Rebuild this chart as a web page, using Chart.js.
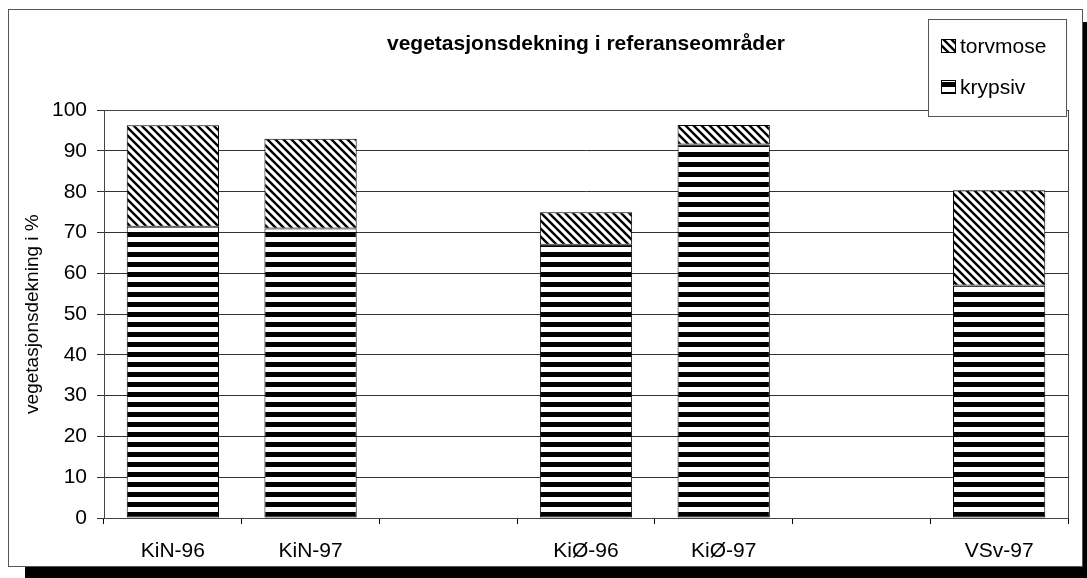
<!DOCTYPE html>
<html>
<head>
<meta charset="utf-8">
<script src="https://cdn.jsdelivr.net/npm/chart.js@4.4.0/dist/chart.umd.min.js"></script>
<style>
  html, body { margin: 0; padding: 0; background: #fff; overflow: hidden; }
  #wrap { position: relative; width: 1087px; height: 578px; overflow: hidden; }
  #frame {
    position: absolute; left: 8px; top: 9px; width: 1073px; height: 556px;
    border: 1px solid #555; background: #fff;
    box-shadow: 17px 13px 0 #000;
  }
  #myChart { position: absolute; left: 0; top: 0; }
</style>
</head>
<body>
<div id="wrap">
  <div id="frame"></div>
  <canvas id="myChart" width="1087" height="578"></canvas>
</div>
<script>
var categories = ['KiN-96', 'KiN-97', '', 'KiØ-96', 'KiØ-97', '', 'VSv-97'];
var krypsiv = [71.4, 71, null, 67, 91.6, null, 57];
var torvmose = [24.9, 22, null, 8, 4.8, null, 23.4];
var yTicks = [0, 10, 20, 30, 40, 50, 60, 70, 80, 90, 100];

var fontFam = '"Liberation Sans", Arial, Helvetica, sans-serif';

// black/white stripes, 5px black every 10px
function stripePattern(ctx){
  var c = document.createElement('canvas');
  c.width = 4; c.height = 10;
  var g = c.getContext('2d');
  g.fillStyle = '#fff'; g.fillRect(0, 0, 4, 10);
  g.fillStyle = '#000'; g.fillRect(0, 0, 4, 5);
  var p = ctx.createPattern(c, 'repeat');
  p.setTransform(new DOMMatrix().translate(0, 2));
  return p;
}

// "\" hatch
function hatchPattern(ctx){
  var s = 8;
  var c = document.createElement('canvas');
  c.width = s; c.height = s;
  var g = c.getContext('2d');
  g.fillStyle = '#fff'; g.fillRect(0, 0, s, s);
  g.strokeStyle = '#000'; g.lineWidth = 2.4;
  g.beginPath();
  g.moveTo(-1, -1); g.lineTo(s + 1, s + 1);
  g.moveTo(-1, s - 1); g.lineTo(1, s + 1);
  g.moveTo(s - 1, -1); g.lineTo(s + 1, 1);
  g.stroke();
  return ctx.createPattern(c, 'repeat');
}

var areaBorder = {
  id: 'areaBorder',
  beforeDatasetsDraw: function(chart){
    var a = chart.chartArea, c = chart.ctx;
    c.save();
    c.strokeStyle = '#444'; c.lineWidth = 1;
    c.strokeRect(Math.round(a.left) + 0.5, Math.round(a.top) + 0.5,
                 Math.round(a.right - a.left), Math.round(a.bottom - a.top));
    c.restore();
  }
};

var boxLegend = {
  id: 'boxLegend',
  afterDraw: function(chart){
    var c = chart.ctx;
    c.save();
    c.fillStyle = '#fff';
    c.fillRect(928, 19, 138, 97);
    c.strokeStyle = '#555'; c.lineWidth = 1;
    c.strokeRect(928.5, 19.5, 138, 97);
    var ds = chart.data.datasets;
    var rows = [ds[1], ds[0]];
    var ys = [46, 87];
    c.font = '21px ' + fontFam;
    c.textBaseline = 'middle';
    for (var i = 0; i < rows.length; i++){
      c.fillStyle = rows[i].backgroundColor;
      c.fillRect(941, ys[i] - 7, 15, 14);
      c.strokeStyle = '#000';
      c.strokeRect(941.5, ys[i] - 6.5, 14, 13);
      c.fillStyle = '#000';
      c.fillText(rows[i].label, 960, ys[i] + 1);
    }
    c.restore();
  }
};

window.onload = function(){
  var ctx = document.getElementById('myChart').getContext('2d');
  var stripes = stripePattern(ctx);
  var hatch = hatchPattern(ctx);

  new Chart(ctx, {
    type: 'bar',
    data: {
      labels: categories,
      datasets: [
        { label: 'krypsiv', data: krypsiv, backgroundColor: stripes,
          borderColor: '#000', borderWidth: 1, borderSkipped: false },
        { label: 'torvmose', data: torvmose, backgroundColor: hatch,
          borderColor: '#000', borderWidth: 1, borderSkipped: false }
      ]
    },
    options: {
      responsive: false,
      devicePixelRatio: 1,
      animation: false,
      layout: { padding: { left: 8, right: 19, top: 0, bottom: 10 } },
      datasets: { bar: { categoryPercentage: 1, barPercentage: 0.67 } },
      plugins: {
        legend: { display: false },
        tooltip: { enabled: false },
        title: {
          display: true,
          fullSize: false,
          text: 'vegetasjonsdekning i referanseområder',
          color: '#000',
          font: { family: fontFam, size: 21, weight: 'bold' },
          padding: { top: 32, bottom: 53 }
        }
      },
      scales: {
        x: {
          stacked: true,
          afterFit: function(s){ s.height = 50; },
          grid: { display: true, offset: true, drawOnChartArea: false, color: '#000', tickLength: 6 },
          border: { color: '#000' },
          ticks: { color: '#000', padding: 15, maxRotation: 0, autoSkip: false,
                   font: { family: fontFam, size: 21 } }
        },
        y: {
          stacked: true,
          min: 0, max: 100,
          afterFit: function(s){ s.width = 96; },
          afterBuildTicks: function(s){ s.ticks = yTicks.map(function(v){ return { value: v }; }); },
          grid: { color: '#333', tickLength: 7 },
          border: { color: '#000' },
          ticks: { color: '#000', padding: 10, font: { family: fontFam, size: 21 } },
          title: {
            display: true,
            text: 'vegetasjonsdekning i %',
            color: '#000',
            font: { family: fontFam, size: 19 },
            padding: { top: 13, bottom: 0 }
          }
        }
      }
    },
    plugins: [areaBorder, boxLegend]
  });
};
</script>
</body>
</html>
